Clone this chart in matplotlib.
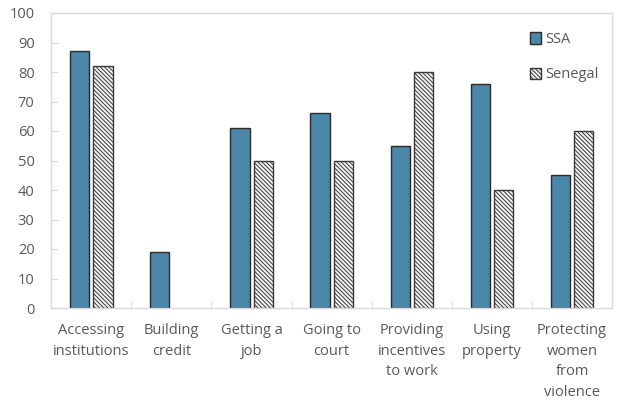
import numpy as np
import matplotlib.pyplot as plt

plt.rcParams['font.family'] = ['Open Sans', 'DejaVu Sans']
plt.rcParams['hatch.color'] = '#666666'
plt.rcParams['hatch.linewidth'] = 0.7

categorias = ['Accessing\ninstitutions', 'Building\ncredit', 'Getting a\njob',
              'Going to\ncourt', 'Providing\nincentives\nto work', 'Using\nproperty',
              'Protecting\nwomen\nfrom\nviolence']
ssa = [87, 19, 61, 66, 55, 76, 45]
senegal = [82, np.nan, 50, 50, 80, 40, 60]  # sem valor para Senegal em "Building credit"

cinza = '#595959'
borda = '#d9d9d9'

fig = plt.figure(figsize=(6.17, 4.00), dpi=100)
ax = fig.add_axes([0.083, 0.23, 0.909, 0.7375])

x = np.arange(len(categorias))
larg = 0.24
ax.bar(x - 0.145, ssa, larg, color='#4a87a8', edgecolor='#2b2b2b', linewidth=1, label='SSA')
ax.bar(x + 0.145, senegal, larg, color='#f2f2f2', edgecolor='#3a3a3a', linewidth=1,
       hatch='\\\\\\\\\\\\\\\\', label='Senegal')

ax.set_xlim(-0.5, len(categorias) - 0.5)
ax.set_ylim(0, 100)
ax.set_yticks(range(0, 101, 10))
ax.set_xticks(x)
ax.set_xticklabels(categorias, fontsize=10.5, color=cinza, linespacing=1.5, va='top')
ax.set_xticks(np.arange(0.5, len(categorias) - 0.5), minor=True)
ax.tick_params(axis='x', which='major', length=0, pad=11)
ax.tick_params(axis='x', which='minor', direction='in', length=5, color=borda)
ax.tick_params(axis='y', direction='in', length=5, color=borda, labelsize=10.5,
               labelcolor=cinza, pad=12)
for s in ax.spines.values():
    s.set_color(borda)
    s.set_linewidth(1)

ax.legend(loc='upper right', bbox_to_anchor=(1.0, 0.98), frameon=False, fontsize=10.5,
          labelcolor=cinza, handlelength=0.8, handleheight=0.8, handletextpad=0.3,
          labelspacing=1.4)

plt.savefig('out.png')
